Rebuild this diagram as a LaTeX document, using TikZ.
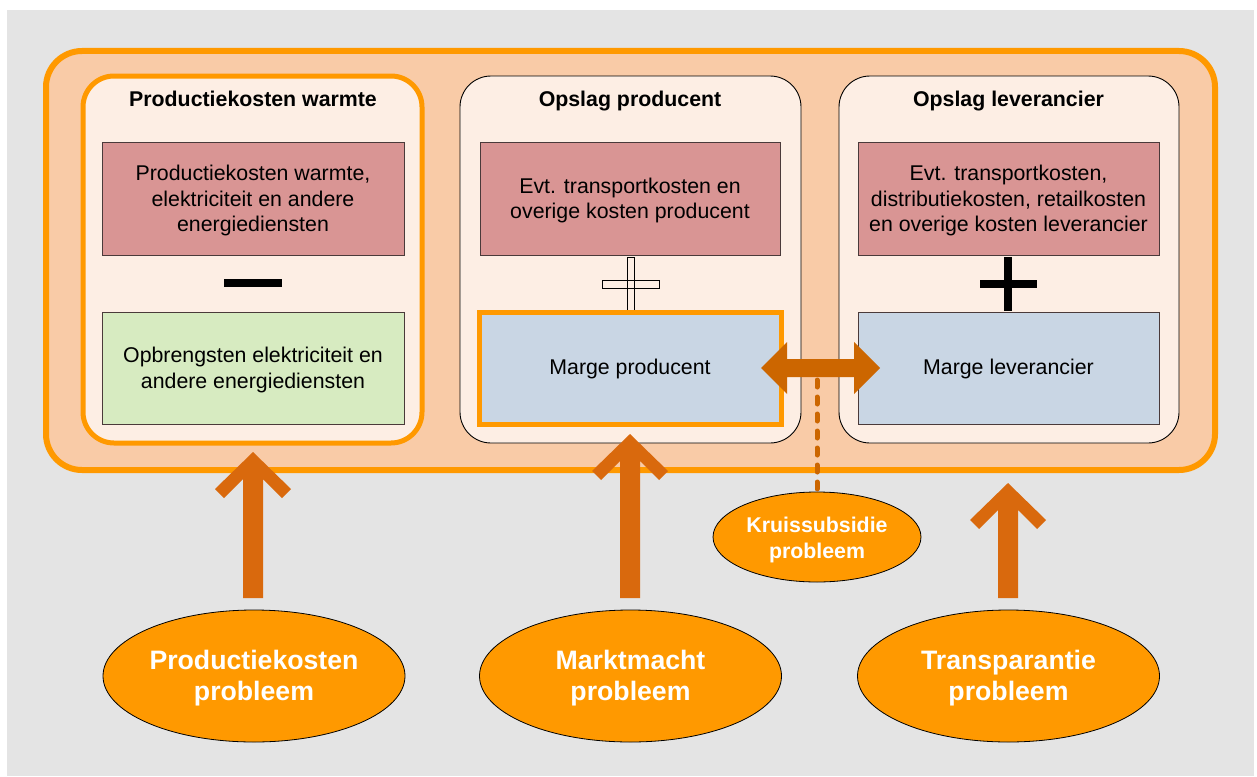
\documentclass[tikz,border=0pt]{standalone}
\usepackage{fontspec}
\setmainfont{Liberation Sans}
\usetikzlibrary{calc,shapes.geometric}
\definecolor{bggray}{HTML}{E4E4E4}
\definecolor{orA}{HTML}{FF9900}
\definecolor{peach}{HTML}{F9CBA7}
\definecolor{panelbg}{HTML}{FDEEE4}
\definecolor{redfill}{HTML}{D99594}
\definecolor{greenfill}{HTML}{D7EBC1}
\definecolor{bluefill}{HTML}{C9D6E4}
\definecolor{arrowor}{HTML}{D9690D}
\definecolor{darror}{HTML}{CC6600}
\definecolor{boxline}{HTML}{4A3A3A}
\newcommand\bodyfont{\fontsize{21.33}{25.6}\selectfont}
\newcommand\titlefont{\fontsize{21.33}{26}\selectfont\bfseries}
\newcommand\bigfont{\fontsize{26.67}{31}\selectfont\bfseries}
\newcommand\bigup[2]{%
  \fill[uparrow] (#1) -- ($(#1)+(-38,37)$) -- ($(#1)+(-29,46)$) -- ($(#1)+(-10,27)$)
    -- ($(#2)+(-10,0)$) -- ($(#2)+(10,0)$) -- ($(#1)+(10,27)$) -- ($(#1)+(29,46)$)
    -- ($(#1)+(38,37)$) -- cycle;}
\begin{document}
\begin{tikzpicture}[x=1pt,y=-1pt,
  outerbox/.style={draw=orA, line width=6, fill=peach, rounded corners=36, inner sep=0},
  panel/.style={draw=black, line width=0.9, fill=panelbg, rounded corners=31, inner sep=0},
  hlpanel/.style={panel, draw=orA, line width=5},
  content/.style={draw=boxline, line width=1, minimum width=302, minimum height=113, inner sep=0},
  redbox/.style={content, fill=redfill},
  greenbox/.style={content, fill=greenfill},
  bluebox/.style={content, fill=bluefill},
  hlbox/.style={content, fill=bluefill, draw=orA, line width=5},
  bodytext/.style={align=center, font=\bodyfont, inner sep=0},
  paneltitle/.style={font=\titlefont, anchor=base, inner sep=0},
  bigell/.style={ellipse, draw=black, line width=0.8, fill=orA,
    minimum width=302, minimum height=132, inner sep=0},
  smallell/.style={ellipse, draw=black, line width=0.8, fill=orA,
    minimum width=208, minimum height=90, inner sep=0},
  bigtext/.style={text=white, align=center, font=\bigfont, inner sep=0},
  smalltext/.style={text=white, align=center, font=\titlefont, inner sep=0},
  uparrow/.style={fill=arrowor},
  dblarrow/.style={fill=darror},
  dotline/.style={draw=darror, line width=5, line cap=round, dash pattern=on 7 off 10},
  signbar/.style={fill=black},
  signout/.style={draw=black, line width=0.9}
]
\useasboundingbox (0,0) rectangle (1257,776);
\fill[bggray] (7,10) rectangle (1254,776);

% outer box
\node[outerbox, minimum width=1169, minimum height=419] (outer) at (630.5,260.5) {};

% panels
\node[hlpanel, minimum width=339, minimum height=367] (p1) at (252.5,259.5) {};
\node[panel, minimum width=341, minimum height=367] (p2) at (630.5,259.5) {};
\node[panel, minimum width=340, minimum height=367] (p3) at (1009,259.5) {};

\node[paneltitle] (t1) at (253,106) {Productiekosten warmte};
\node[paneltitle] (t2) at (630,106) {Opslag producent};
\node[paneltitle] (t3) at (1008.5,106) {Opslag leverancier};

% panel 1
\node[redbox] (r1) at (253,198.5) {};
\node[bodytext] (r1t) at ([yshift=-2]r1.center) {Productiekosten warmte,\\elektriciteit en andere\\energiediensten};
\fill[signbar] (224,279) rectangle (282,287);
\node[greenbox, minimum height=112] (g1) at (253,368) {};
\node[bodytext] (g1t) at ([yshift=-2]g1.center) {Opbrengsten elektriciteit en\\andere energiediensten};

% panel 2
\node[redbox, minimum width=300] (r2) at (630,198.5) {};
\node[bodytext] (r2t) at ([yshift=-2]r2.center) {Evt. transportkosten en\\overige kosten producent};
\draw[signout] (627,257) rectangle (634,310);
\draw[signout] (602,280) rectangle (659,288);
\node[hlbox, minimum height=112] (mp) at (630,368) {};
\node[bodytext] (mpt) at ([yshift=-1]mp.center) {Marge producent};

% panel 3
\node[redbox, minimum width=301] (r3) at (1008.5,198.5) {};
\node[bodytext] (r3t) at ([yshift=-2]r3.center) {Evt. transportkosten,\\distributiekosten, retailkosten\\en overige kosten leverancier};
\fill[signbar] (1004,257) rectangle (1012,311);
\fill[signbar] (980,280) rectangle (1037,288);
\node[bluebox, minimum width=301, minimum height=112] (ml) at (1008.5,368) {};
\node[bodytext] (mlt) at ([yshift=-1]ml.center) {Marge leverancier};

% cross subsidy
\node[smallell] (ks) at (817,537) {};
\node[smalltext] (kst) at ([yshift=-2.5]ks.center) {Kruissubsidie\\probleem};
\coordinate (dotstart) at (817,380);
\draw[dotline] (dotstart) -- (ks.north);

\coordinate (dl) at (761,368);
\coordinate (dr) at (880,368);
\fill[dblarrow] (dl) -- ($(dl)+(26,-26)$) -- ($(dl)+(26,-9)$) -- ($(dr)+(-26,-9)$)
  -- ($(dr)+(-26,-26)$) -- (dr) -- ($(dr)+(-26,26)$) -- ($(dr)+(-26,9)$)
  -- ($(dl)+(26,9)$) -- ($(dl)+(26,26)$) -- cycle;

% bottom ellipses
\node[bigell] (e1) at (254,676) {};
\node[bigtext] (e1t) at ([yshift=-2]e1.center) {Productiekosten\\probleem};
\node[bigell] (e2) at (630.5,676) {};
\node[bigtext] (e2t) at ([yshift=-2]e2.center) {Marktmacht\\probleem};
\node[bigell] (e3) at (1008.5,676) {};
\node[bigtext] (e3t) at ([yshift=-2]e3.center) {Transparantie\\probleem};

% up arrows
\coordinate (a1t) at (253,452);  \coordinate (a1b) at (253,598);
\coordinate (a2t) at (630,434);  \coordinate (a2b) at (630,598);
\coordinate (a3t) at (1008,483); \coordinate (a3b) at (1008,598);
\bigup{a1t}{a1b}
\bigup{a2t}{a2b}
\bigup{a3t}{a3b}
\end{tikzpicture}
\end{document}
